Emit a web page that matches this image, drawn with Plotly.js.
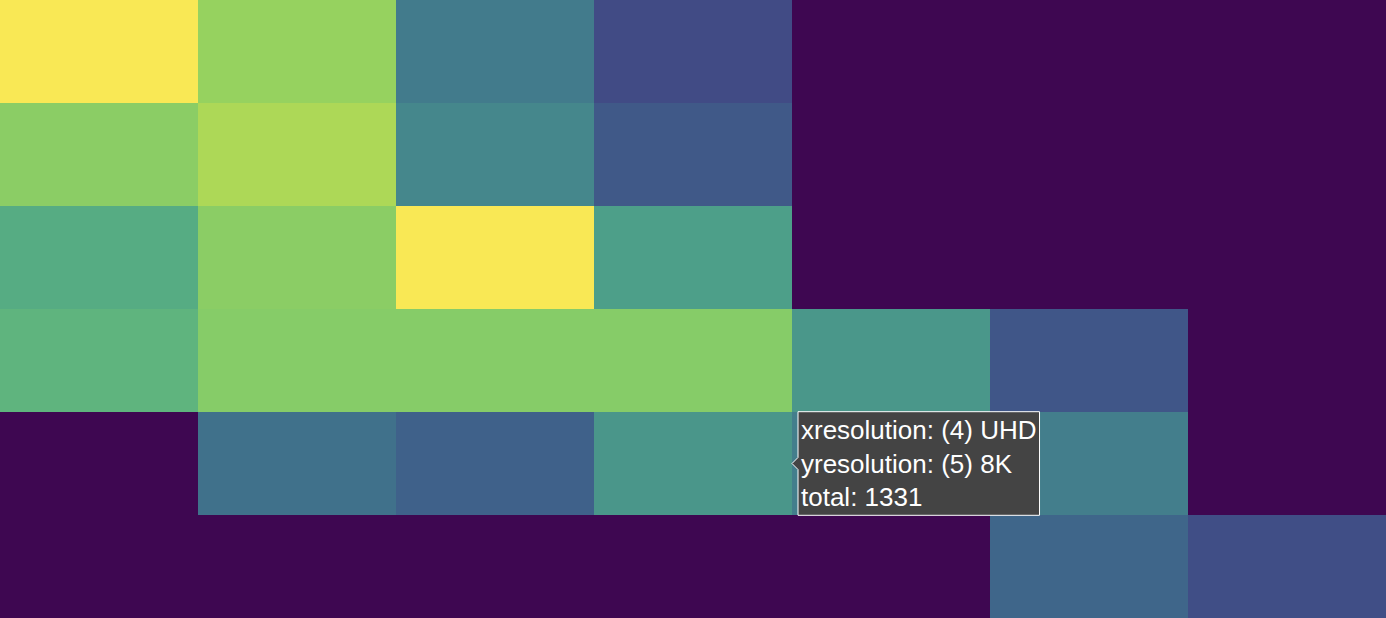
<!DOCTYPE html>
<html>
<head>
<meta charset="utf-8">
<script src="https://cdn.plot.ly/plotly-3.0.1.min.js"></script>
<style>
html,body{margin:0;padding:0;background:#fff;}
#chart{width:1386px;height:618px;}
</style>
</head>
<body>
<div id="chart"></div>
<script>
const xCategories = ["(1) SD", "(2) HD", "(3) FHD", "(4) UHD", "(5) 8K", "(6) 10K", "(7) 16K"];
const yCategories = ["(1) SD", "(2) HD", "(3) FHD", "(4) UHD", "(5) 8K", "(6) 10K"];
const totals = [
  [2500, 2040, 1050, 575, 0, 0, 0],
  [1975, 2150, 1175, 700, 0, 0, 0],
  [1570, 1975, 2500, 1420, 0, 0, 0],
  [1660, 1950, 1950, 1950, 1340, 675, 0],
  [0, 950, 775, 1331, 1075, 1075, 0],
  [0, 0, 0, 0, 0, 825, 600]
];

// Viridis stops, re-expressed as the screenshot's display colours
const viridisStops = [
  [0,'#440154'],[0.0627,'#48186a'],[0.1255,'#472d7b'],[0.1882,'#424086'],
  [0.2510,'#3b528b'],[0.3137,'#33638d'],[0.3765,'#2c728e'],[0.4392,'#26828e'],
  [0.5020,'#21918c'],[0.5647,'#1fa088'],[0.6275,'#28ae80'],[0.6902,'#3fbc73'],
  [0.7529,'#5ec962'],[0.8157,'#84d44b'],[0.8784,'#addc30'],[0.9412,'#d8e219'],[1,'#fde725']
];
function toLin(c){c/=255;return c<=0.04045?c/12.92:Math.pow((c+0.055)/1.055,2.4);}
function toEnc(c){c=Math.max(0,Math.min(1,c));const v=c<=0.0031308?12.92*c:1.055*Math.pow(c,1/2.4)-0.055;return Math.round(v*255);}
function convert(hex){
  const r=toLin(parseInt(hex.substr(1,2),16)),g=toLin(parseInt(hex.substr(3,2),16)),b=toLin(parseInt(hex.substr(5,2),16));
  const R=0.8225*r+0.1774*g, G=0.0332*r+0.9669*g, B=0.0171*r+0.0724*g+0.9108*b;
  return 'rgb('+toEnc(R)+','+toEnc(G)+','+toEnc(B)+')';
}
const colorscale = viridisStops.map(s => [s[0], convert(s[1])]);

const trace = {
  type: 'heatmap',
  x: xCategories,
  y: yCategories,
  z: totals,
  colorscale: colorscale,
  zmin: 0,
  zmax: 2500,
  showscale: false,
  hovertemplate: 'xresolution: %{x}<br>yresolution: %{y}<br>total: %{z}<extra></extra>',
  hoverlabel: {bgcolor: '#444', bordercolor: '#fff', font: {color: '#fff', size: 26, family: 'Arial, Liberation Sans, sans-serif'}}
};

const layout = {
  width: 1386,
  height: 618,
  margin: {l: 0, r: 0, t: 0, b: 0, pad: 0},
  xaxis: {visible: false, type: 'category', fixedrange: true},
  yaxis: {visible: false, type: 'category', autorange: 'reversed', fixedrange: true},
  hovermode: 'closest',
  paper_bgcolor: '#fff',
  plot_bgcolor: '#fff'
};

const gd = document.getElementById('chart');
Plotly.newPlot(gd, [trace], layout, {displayModeBar: false}).then(function () {
  let done = false;
  try {
    if (Plotly.Fx && Plotly.Fx.hover) {
      Plotly.Fx.hover(gd, [{curveNumber: 0, pointNumber: [4, 3]}]);
      done = !!gd.querySelector('.hovertext');
    }
  } catch (e) {}
  if (!done) {
    const drag = gd.querySelector('.nsewdrag');
    if (drag) {
      const r = drag.getBoundingClientRect();
      const ev = new MouseEvent('mousemove', {bubbles: true, clientX: r.left + r.width * 0.5, clientY: r.top + r.height * 0.75, view: window});
      drag.dispatchEvent(ev);
    }
  }
});
</script>
</body>
</html>
